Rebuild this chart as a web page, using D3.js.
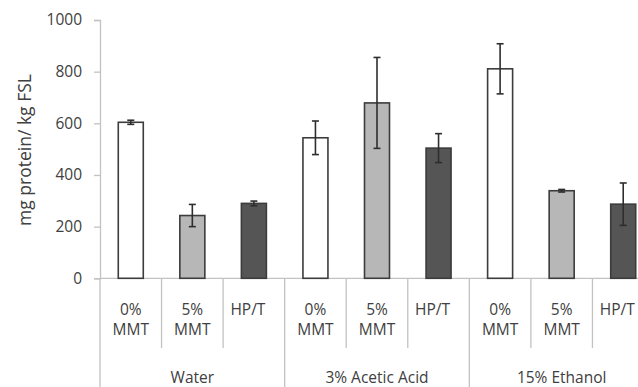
<!DOCTYPE html>
<html>
<head>
<meta charset="utf-8">
<script src="https://cdn.jsdelivr.net/npm/d3@7"></script>
<style>
  html, body { margin: 0; padding: 0; background: #fff; }
  svg { display: block; }
  text { font-family: "Open Sans", "Liberation Sans", sans-serif; fill: #404040; }
</style>
</head>
<body>
<svg id="chart" width="638" height="387"></svg>
<script>
// Treatments within each medium
const treatments = ["0% MMT", "5% MMT", "HP/T"];
const media = ["Water", "3% Acetic Acid", "15% Ethanol"];

// Mean protein migration (mg protein / kg FSL), one array per medium
const waterMeans = [604, 243, 290];
const aceticMeans = [544, 679, 504];
const ethanolMeans = [811, 339, 287];

// Error bar half-widths
const waterErr = [8, 43, 9];
const aceticErr = [65, 176, 56];
const ethanolErr = [97, 5, 82];

const yTicks = [0, 200, 400, 600, 800, 1000];
const fills = ["#ffffff", "#b7b7b7", "#555555"];

const meansByMedium = [waterMeans, aceticMeans, ethanolMeans];
const errByMedium = [waterErr, aceticErr, ethanolErr];

const rows = [];
media.forEach((m, mi) => {
  treatments.forEach((t, ti) => {
    rows.push({ key: m + "|" + t, medium: m, treatment: t, ti,
                value: meansByMedium[mi][ti], err: errByMedium[mi][ti] });
  });
});

const svg = d3.select("#chart");
const plotLeft = 100, plotRight = 654, plotTop = 20, plotBottom = 278.3;
const fontSize = "15.5px";

const x = d3.scaleBand().domain(rows.map(d => d.key)).range([plotLeft, plotRight]).paddingInner(0).paddingOuter(0);
const y = d3.scaleLinear().domain([0, 1000]).range([plotBottom, plotTop]);
const axisColor = "#c2c2c2";

// Y axis
const yAxis = svg.append("g").attr("transform", `translate(${plotLeft},0)`)
  .call(d3.axisLeft(y).tickValues(yTicks).tickFormat(d3.format("d")).tickSize(6).tickPadding(12));
yAxis.select(".domain").attr("stroke", axisColor).attr("stroke-width", 1.3);
yAxis.selectAll(".tick line").attr("stroke", axisColor).attr("stroke-width", 1.3);
yAxis.selectAll(".tick text").style("font-size", fontSize).attr("fill", "#404040");

// Y axis title
svg.append("text")
  .attr("transform", `translate(31,150) rotate(-90)`)
  .attr("text-anchor", "middle")
  .style("font-size", "17.5px")
  .text("mg protein/ kg FSL");

// X baseline
svg.append("line")
  .attr("x1", plotLeft).attr("x2", plotRight).attr("y1", y(0)).attr("y2", y(0))
  .attr("stroke", axisColor).attr("stroke-width", 1.3);

// Category separators (short) and medium separators (long)
const bw = x.bandwidth();
rows.forEach(d => {
  const xs = x(d.key);
  const isGroupStart = d.ti === 0;
  svg.append("line")
    .attr("x1", xs).attr("x2", xs)
    .attr("y1", y(0)).attr("y2", isGroupStart ? 387 : 348)
    .attr("stroke", axisColor).attr("stroke-width", 1.3);
});

// Treatment labels (single-word labels sit a little left of the band centre)
rows.forEach(d => {
  const parts = d.treatment.split(" ");
  const cx = x(d.key) + bw / 2 - (parts.length === 1 ? 6 : 0);
  const t = svg.append("text").attr("text-anchor", "middle").style("font-size", fontSize);
  parts.forEach((p, k) => {
    t.append("tspan").attr("x", cx).attr("y", 314.5 + k * 20.5).text(p);
  });
});

// Medium labels
media.forEach(m => {
  const first = x(m + "|" + treatments[0]);
  const cx = first + bw * 1.5;
  svg.append("text").attr("x", cx).attr("y", 382.5)
    .attr("text-anchor", "middle").style("font-size", fontSize).text(m);
});

// Bars
const barW = 25;
svg.append("g").selectAll("rect").data(rows).join("rect")
  .attr("x", d => x(d.key) + bw / 2 - barW / 2)
  .attr("width", barW)
  .attr("y", d => y(d.value))
  .attr("height", d => y(0) - y(d.value))
  .attr("fill", d => fills[d.ti])
  .attr("stroke", "#3c3c3c")
  .attr("stroke-width", 1.6);

// Error bars
const eb = svg.append("g").attr("stroke", "#2e2e2e").attr("stroke-width", 1.6);
rows.forEach(d => {
  const cx = x(d.key) + bw / 2;
  const y1 = y(d.value + d.err), y2 = y(d.value - d.err);
  eb.append("line").attr("x1", cx).attr("x2", cx).attr("y1", y1).attr("y2", y2);
  eb.append("line").attr("x1", cx - 3.5).attr("x2", cx + 3.5).attr("y1", y1).attr("y2", y1);
  eb.append("line").attr("x1", cx - 3.5).attr("x2", cx + 3.5).attr("y1", y2).attr("y2", y2);
});
</script>
</body>
</html>
